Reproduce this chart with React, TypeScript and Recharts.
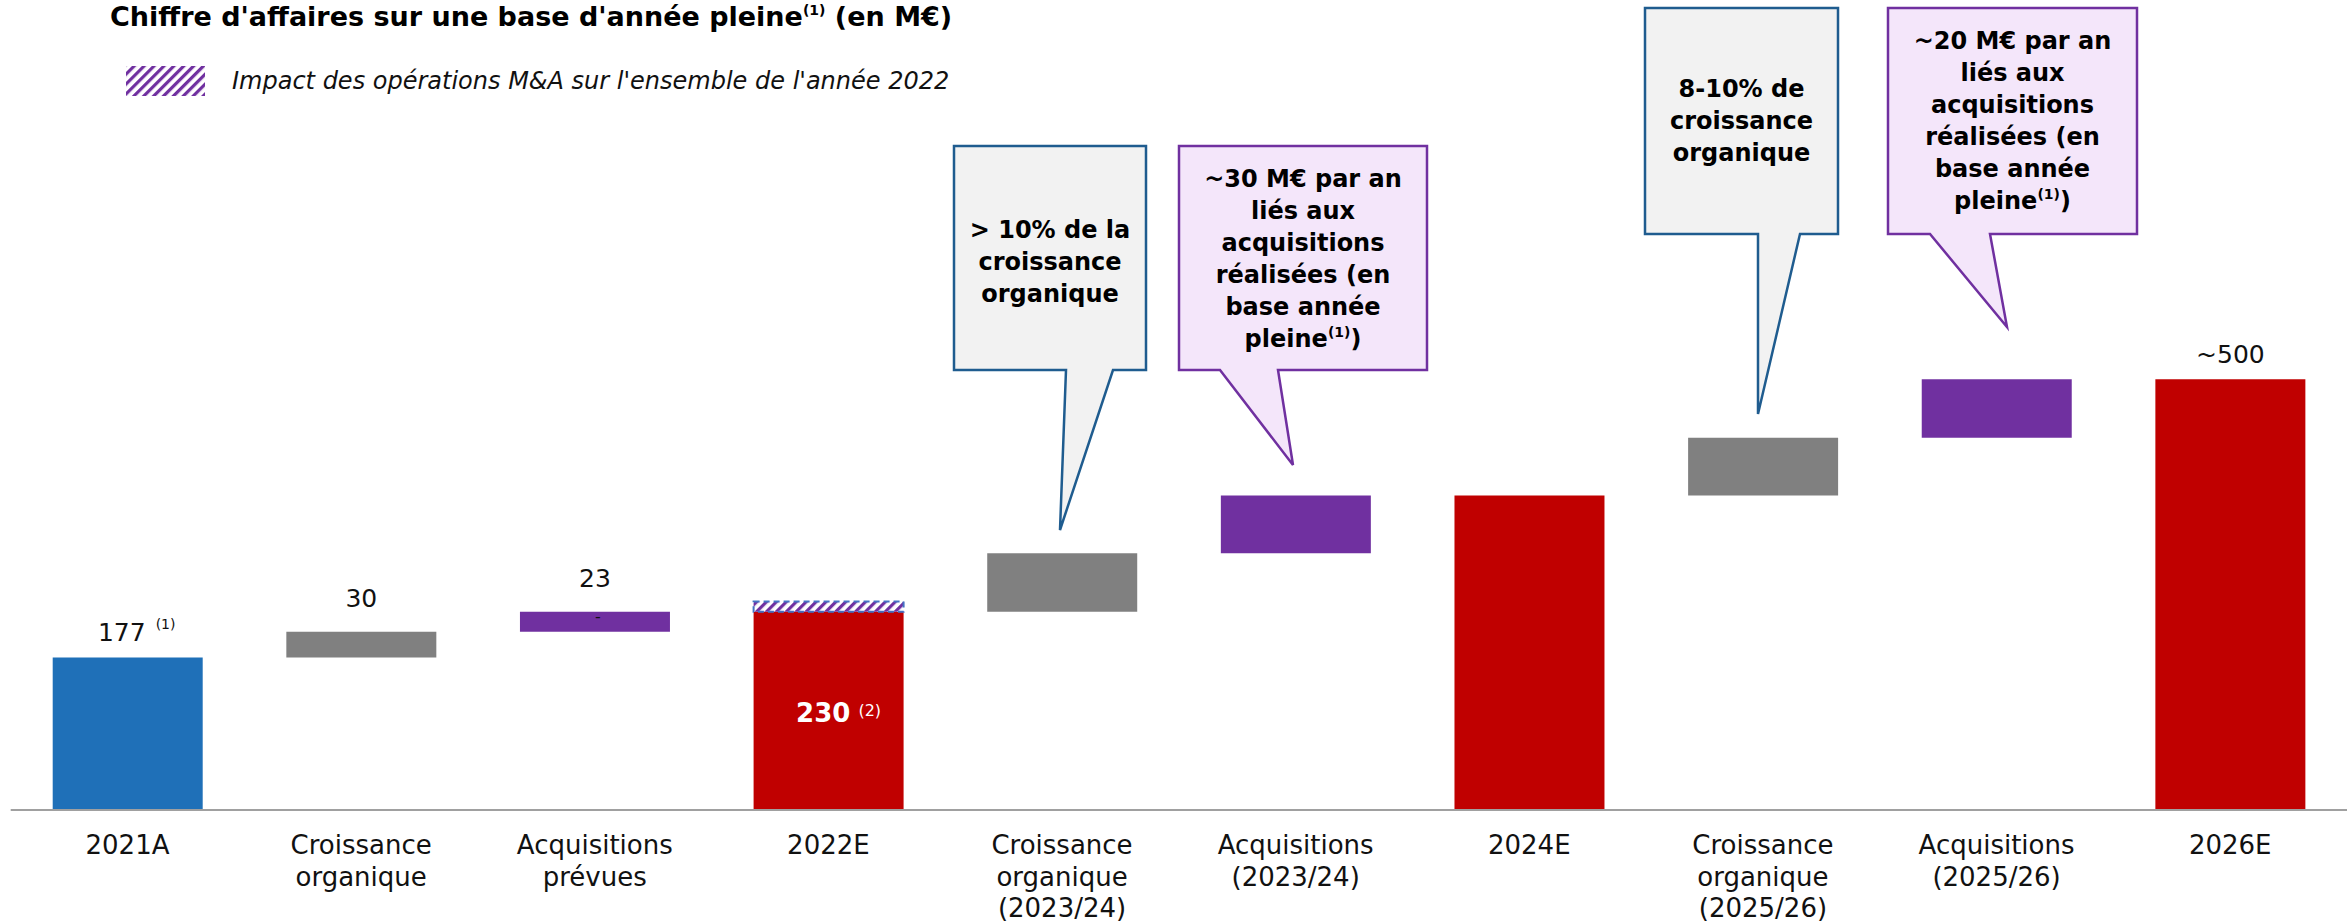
import { Bar, BarChart, Cell, LabelList, XAxis, YAxis } from "recharts";

// Pont de chiffre d'affaires (waterfall) 2021A -> 2026E, en M€
const CATEGORIES = [
  "2021A",
  "Croissance\norganique",
  "Acquisitions\nprévues",
  "2022E",
  "Croissance\norganique\n(2023/24)",
  "Acquisitions\n(2023/24)",
  "2024E",
  "Croissance\norganique\n(2025/26)",
  "Acquisitions\n(2025/26)",
  "2026E",
];
const KINDS = ["actual", "organic", "acq", "total", "organic", "acq", "total", "organic", "acq", "total"];
const VALUES = [177, 30, 23, 230, 68, 67, 365, 67, 68, 500];
const MA_IMPACT = [0, 0, 0, 12, 0, 0, 0, 0, 0, 0];
const LABELS = ["177", "30", "23", "230", "", "", "", "", "", "~500"];
const NOTES = ["(1)", "", "", "(2)", "", "", "", "", "", ""];

const COLORS: Record<string, string> = {
  actual: "#1F70B8",
  organic: "#808080",
  acq: "#7030A0",
  total: "#C00000",
};

const FONT = "'DejaVu Sans', 'Open Sans', sans-serif";
const W = 2351;
const H = 924;

// base invisible = cumul courant pour les barres de variation
let running = 0;
const data = CATEGORIES.map((cat, i) => {
  const isDelta = KINDS[i] === "organic" || KINDS[i] === "acq";
  const base = isDelta ? running : 0;
  running = isDelta ? running + VALUES[i] : VALUES[i];
  return { cat, base, value: VALUES[i], extra: MA_IMPACT[i], kind: KINDS[i], label: LABELS[i], note: NOTES[i] };
});

function Tick({ x, y, payload }: any) {
  const lines = String(payload.value).split("\n");
  return (
    <text x={x} y={y + 36} textAnchor="middle" fontSize={26} fill="#111" fontFamily={FONT}>
      {lines.map((l, i) => (
        <tspan key={i} x={x} dy={i === 0 ? 0 : 31.5}>
          {l}
        </tspan>
      ))}
    </text>
  );
}

function ValueLabel(props: any) {
  const { x, y, width, height, index } = props;
  const d = data[index];
  if (!d) return null;
  const cx = x + width / 2;
  if (d.kind === "total" && d.note) {
    // libellé à l'intérieur de la barre 2022E
    return (
      <text x={cx + 10} y={y + height / 2 + 11} textAnchor="middle" fill="#fff" fontFamily={FONT}>
        <tspan fontSize={26} fontWeight={700}>{d.label}</tspan>
        <tspan fontSize={16} dx={8} dy={-6}>{d.note}</tspan>
      </text>
    );
  }
  if (!d.label) return null;
  const off = d.kind === "organic" || d.kind === "acq" ? 25 : 16;
  return (
    <g fontFamily={FONT}>
      <text x={cx + (d.note ? 9 : 0)} y={y - off} textAnchor="middle" fontSize={25} fill="#111">
        <tspan>{d.label}</tspan>
        {d.note && (
          <tspan fontSize={14} dx={10} dy={-12}>
            {d.note}
          </tspan>
        )}
      </text>
      {d.kind === "acq" && (
        <text x={cx + 3} y={y + 10} textAnchor="middle" fontSize={16} fill="#111">
          -
        </text>
      )}
    </g>
  );
}

type Callout = {
  box: [number, number, number, number];
  tail: [number, number, number, number];
  lines: string[];
  textY: number;
  stroke: string;
  fill: string;
};

const CALLOUTS: Callout[] = [
  {
    box: [954, 146, 1146, 370],
    tail: [1066, 1113, 1060, 530],
    lines: ["> 10% de la", "croissance", "organique"],
    textY: 238,
    stroke: "#1F5C8F",
    fill: "#F2F2F2",
  },
  {
    box: [1179, 146, 1427, 370],
    tail: [1220, 1278, 1293, 465],
    lines: ["~30 M€ par an", "liés aux", "acquisitions", "réalisées (en", "base année", "pleine^"],
    textY: 187,
    stroke: "#7030A0",
    fill: "#F4E6FA",
  },
  {
    box: [1645, 8, 1838, 234],
    tail: [1758, 1800, 1758, 414],
    lines: ["8-10% de", "croissance", "organique"],
    textY: 97,
    stroke: "#1F5C8F",
    fill: "#F2F2F2",
  },
  {
    box: [1888, 8, 2137, 234],
    tail: [1930, 1990, 2007, 327],
    lines: ["~20 M€ par an", "liés aux", "acquisitions", "réalisées (en", "base année", "pleine^"],
    textY: 49,
    stroke: "#7030A0",
    fill: "#F4E6FA",
  },
];

function CalloutShape({ c }: { c: Callout }) {
  const [x1, y1, x2, y2] = c.box;
  const [tl, tr, tx, ty] = c.tail;
  const pts = [
    [x1, y1],
    [x2, y1],
    [x2, y2],
    [tr, y2],
    [tx, ty],
    [tl, y2],
    [x1, y2],
  ]
    .map((p) => p.join(","))
    .join(" ");
  const cx = (x1 + x2) / 2;
  return (
    <g>
      <polygon points={pts} fill={c.fill} stroke={c.stroke} strokeWidth={2.5} strokeLinejoin="miter" />
      {c.lines.map((l, i) => {
        const y = c.textY + i * 32;
        if (l.endsWith("^")) {
          return (
            <text key={i} x={cx} y={y} textAnchor="middle" fontSize={24} fontWeight={700} fill="#000">
              <tspan>{l.slice(0, -1)}</tspan>
              <tspan fontSize={14} dy={-10}>
                (1)
              </tspan>
              <tspan dy={10}>)</tspan>
            </text>
          );
        }
        return (
          <text key={i} x={cx} y={y} textAnchor="middle" fontSize={24} fontWeight={700} fill="#000">
            {l}
          </text>
        );
      })}
    </g>
  );
}

export default function App() {
  return (
    <div style={{ position: "absolute", left: 0, top: 0, width: W, height: H, overflow: "hidden", background: "#fff", fontFamily: FONT }}>
      <BarChart
        width={W}
        height={H}
        data={data}
        margin={{ top: 0, right: 4, left: 10.7, bottom: 0 }}
        barSize={150}
      >
        <defs>
          <pattern id="maHatch" patternUnits="userSpaceOnUse" width="7" height="7" patternTransform="rotate(45)">
            <rect width="7" height="7" fill="#fff" />
            <rect width="3.2" height="7" fill="#7030A0" />
          </pattern>
        </defs>
        <XAxis
          dataKey="cat"
          interval={0}
          height={114}
          tickLine={false}
          axisLine={{ stroke: "#A0A0A0", strokeWidth: 2 }}
          tick={<Tick />}
        />
        <YAxis hide domain={[0, 940]} allowDataOverflow />
        <Bar dataKey="base" stackId="w" fill="transparent" isAnimationActive={false} />
        <Bar dataKey="value" stackId="w" isAnimationActive={false}>
          {data.map((d) => (
            <Cell key={d.cat} fill={COLORS[d.kind]} />
          ))}
          <LabelList dataKey="value" content={<ValueLabel />} />
        </Bar>
        <Bar
          dataKey="extra"
          stackId="w"
          fill="url(#maHatch)"
          stroke="#4472C4"
          strokeWidth={2}
          strokeDasharray="6 4"
          isAnimationActive={false}
        />
      </BarChart>
      <svg
        width={W}
        height={H}
        style={{ position: "absolute", left: 0, top: 0, pointerEvents: "none" }}
        fontFamily={FONT}
      >
        <defs>
          <pattern id="legendHatch" patternUnits="userSpaceOnUse" width="7" height="7" patternTransform="rotate(45)">
            <rect width="7" height="7" fill="#fff" />
            <rect width="3.2" height="7" fill="#7030A0" />
          </pattern>
        </defs>
        <text x={110} y={26} fontSize={27} fontWeight={700} fill="#000">
          <tspan>Chiffre d'affaires sur une base d'année pleine</tspan>
          <tspan fontSize={14} dy={-11}>(1)</tspan>
          <tspan dy={11}> (en M€)</tspan>
        </text>
        <rect x={126} y={66} width={79} height={30} fill="url(#legendHatch)" />
        <text x={232} y={89} fontSize={24} fontStyle="italic" fill="#111">
          Impact des opérations M&amp;A sur l'ensemble de l'année 2022
        </text>
        {CALLOUTS.map((c, i) => (
          <CalloutShape key={i} c={c} />
        ))}
      </svg>
    </div>
  );
}
